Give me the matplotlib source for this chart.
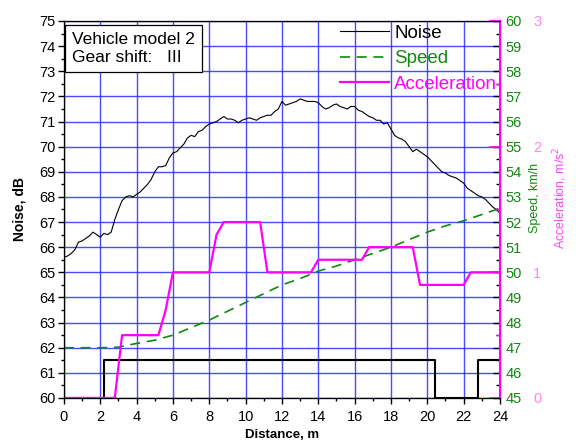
import matplotlib
matplotlib.use("Agg")
import matplotlib.pyplot as plt
from matplotlib.ticker import MultipleLocator

plt.rcParams["font.family"] = ["Liberation Sans", "DejaVu Sans"]

# noise level read along the track (dB)
distance = [i / 5 for i in range(121)]
noise = [
    65.6, 65.65, 65.75, 65.9, 66.2, 66.25, 66.35, 66.45, 66.6, 66.5,
    66.4, 66.55, 66.5, 66.6, 67.1, 67.5, 67.85, 68.0, 68.05, 68.0,
    68.1, 68.2, 68.35, 68.5, 68.7, 69.0, 69.2, 69.2, 69.25, 69.55,
    69.75, 69.8, 69.95, 70.1, 70.35, 70.45, 70.4, 70.6, 70.65, 70.8,
    70.9, 70.95, 71.0, 71.1, 71.2, 71.1, 71.1, 71.05, 70.95, 71.05,
    71.1, 71.15, 71.1, 71.05, 71.15, 71.2, 71.25, 71.25, 71.4, 71.5,
    71.8, 71.65, 71.7, 71.75, 71.8, 71.9, 71.85, 71.8, 71.8, 71.8,
    71.75, 71.6, 71.5, 71.55, 71.65, 71.7, 71.6, 71.55, 71.5, 71.6,
    71.6, 71.45, 71.4, 71.3, 71.2, 71.15, 71.05, 71.05, 70.9, 70.95,
    70.7, 70.45, 70.35, 70.3, 70.2, 70.0, 69.8, 69.9, 69.8, 69.7,
    69.6, 69.45, 69.3, 69.15, 69.0, 68.95, 68.85, 68.8, 68.75, 68.65,
    68.55, 68.35, 68.25, 68.15, 68.05, 68.0, 67.9, 67.75, 67.6, 67.5,
    67.35,
]

# gear shift indicator (drawn on the noise scale)
gear_x = [0, 2.2, 2.2, 20.4, 20.4, 22.8, 22.8, 24]
gear_y = [60, 60, 61.5, 61.5, 60, 60, 61.5, 61.5]

# speed, km/h
speed_x = [0, 1, 2, 3, 3.5, 4, 5, 6, 7, 8, 9, 10, 11, 12, 13, 14, 15,
           16, 17, 18, 19, 20, 21, 22, 23, 24]
speed = [47.0, 47.0, 47.0, 47.02, 47.1, 47.17, 47.3, 47.5, 47.8, 48.1,
         48.45, 48.8, 49.15, 49.5, 49.75, 50.05, 50.25, 50.5, 50.75,
         51.0, 51.3, 51.6, 51.85, 52.05, 52.3, 52.55]

# acceleration, m/s^2
accel_x = [0, 2.8, 3.2, 5.2, 5.6, 6.0, 8.0, 8.4, 8.8, 10.8, 11.2, 13.6,
           14.0, 16.4, 16.8, 19.2, 19.6, 22.0, 22.4, 24]
accel = [0, 0, 0.5, 0.5, 0.7, 1.0, 1.0, 1.3, 1.4, 1.4, 1.0, 1.0,
         1.1, 1.1, 1.2, 1.2, 0.9, 0.9, 1.0, 1.0]

GREEN = "#118811"
MAGENTA = "#ff00ff"
PINK = "#ff88ee"
GRID = "#2a2aff"

fig = plt.figure(figsize=(5.76, 4.43), dpi=100)
ax = fig.add_axes([0.111, 0.1016, 0.757, 0.851])

ax.set_xlim(0, 24)
ax.set_ylim(60, 75)
ax.xaxis.set_major_locator(MultipleLocator(2))
ax.xaxis.set_minor_locator(MultipleLocator(1))
ax.yaxis.set_major_locator(MultipleLocator(1))
ax.yaxis.set_minor_locator(MultipleLocator(0.5))
ax.tick_params(which="major", direction="out", length=4, width=1, labelsize=10.5, pad=2)
ax.tick_params(axis="x", which="major", pad=5)
ax.tick_params(which="minor", direction="out", length=2, width=1)
ax.grid(True, which="major", color=GRID, linewidth=1.0, alpha=0.85)
ax.set_axisbelow(True)

ax.plot(distance, noise, color="black", linewidth=0.8, label="Noise")
ax.plot(gear_x, gear_y, color="black", linewidth=1.5)

ax.set_xlabel("Distance, m", fontsize=9.5, fontweight="bold", labelpad=3)
ax.set_ylabel("Noise, dB", fontsize=10, fontweight="bold", labelpad=9)

ax.text(0.45, 74.55, "Vehicle model 2\nGear shift:   III", fontsize=12.5,
        va="top", ha="left", linespacing=1.25, zorder=5,
        bbox=dict(boxstyle="square,pad=0.4", fc="white", ec="black", lw=0.9))

# speed axis
ax2 = ax.twinx()
ax2.set_ylim(45, 60)
ax2.yaxis.set_major_locator(MultipleLocator(1))
ax2.yaxis.set_minor_locator(MultipleLocator(0.5))
ax2.tick_params(which="major", direction="in", length=5, width=1,
                colors="black", labelcolor=GREEN, labelsize=10.5, pad=4)
ax2.tick_params(which="minor", direction="in", length=3, width=1)
ax2.plot(speed_x, speed, color=GREEN, linewidth=1.2, dashes=(6, 4), label="Speed")
ax2.set_ylabel("Speed, km/h", color=GREEN, fontsize=9)
ax2.yaxis.set_label_coords(1.066, 0.53)

# acceleration axis
ax3 = ax.twinx()
ax3.set_ylim(0, 3)
ax3.yaxis.set_major_locator(MultipleLocator(1))
ax3.yaxis.set_minor_locator(MultipleLocator(0.5))
ax3.tick_params(which="major", direction="in", length=8, width=1.2,
                colors=MAGENTA, labelcolor=PINK, labelsize=10.5, pad=24)
ax3.tick_params(which="minor", direction="in", length=3, width=1, colors=MAGENTA)
ax3.spines["right"].set_color(MAGENTA)
ax3.spines["right"].set_linewidth(1.5)
ax3.plot(accel_x, accel, color=MAGENTA, linewidth=1.6, label="Acceleration")
ax3.set_ylabel("Acceleration, m/s$^2$", color="#ff44ff", fontsize=9)
ax3.yaxis.set_label_coords(1.118, 0.53)

handles = []
for a in (ax, ax2, ax3):
    h, _ = a.get_legend_handles_labels()
    handles += h
leg = ax3.legend(handles=handles, loc="upper right", bbox_to_anchor=(1.02, 1.02),
                 frameon=False, fontsize=13.5, handlelength=2.6,
                 handletextpad=0.3, labelspacing=0.45, borderaxespad=0.2)
for txt, h in zip(leg.get_texts(), handles):
    txt.set_color(h.get_color())

fig.savefig("out.png", dpi=100)
